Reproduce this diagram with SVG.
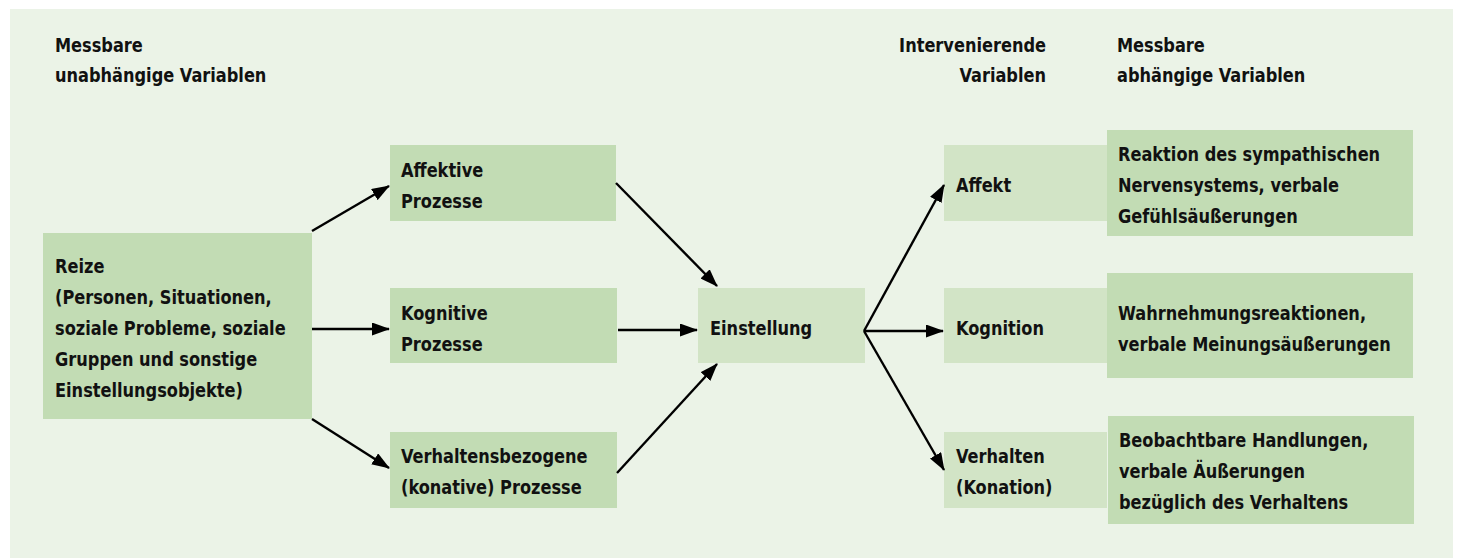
<svg xmlns="http://www.w3.org/2000/svg" width="1458" height="558" viewBox="0 0 1458 558">
<defs>
<style>
text{font-family:"DejaVu Sans Condensed","DejaVu Sans","Liberation Sans",sans-serif;font-weight:bold;font-size:20px;fill:#111}
.dk{fill:#c2dcb4}
.lt{fill:#d2e4c6}
.c line{stroke:#000;stroke-width:2.4;marker-end:url(#ah)}
</style>
<marker id="ah" viewBox="0 0 18 13" refX="17" refY="6.5" markerWidth="18" markerHeight="13" markerUnits="userSpaceOnUse" orient="auto">
<path d="M0,0 L18,6.5 L0,13 z" fill="#000"/>
</marker>
</defs>
<rect x="10" y="9" width="1443" height="549" fill="#ebf3e7"/>
<g id="hdr-left" transform="translate(55 0) scale(0.9 1)"><text y="52">Messbare</text><text y="82">unabhängige Variablen</text></g>
<g id="hdr-mid" text-anchor="end" transform="translate(1046 0) scale(0.9 1)"><text y="52">Intervenierende</text><text y="82">Variablen</text></g>
<g id="hdr-right" transform="translate(1117 0) scale(0.9 1)"><text y="52">Messbare</text><text y="82">abhängige Variablen</text></g>
<g id="reize"><rect class="dk" x="43" y="233" width="269" height="186"/>
<g transform="translate(55 0) scale(0.9 1)"><text y="273">Reize</text><text y="304">(Personen, Situationen,</text><text y="335">soziale Probleme, soziale</text><text y="366">Gruppen und sonstige</text><text y="397">Einstellungsobjekte)</text></g></g>
<g id="affektive"><rect class="dk" x="390" y="145" width="226" height="76"/><g transform="translate(401 0) scale(0.9 1)"><text y="177">Affektive</text><text y="208">Prozesse</text></g></g>
<g id="kognitive"><rect class="dk" x="390" y="288" width="227" height="75"/><g transform="translate(401 0) scale(0.9 1)"><text y="320">Kognitive</text><text y="351">Prozesse</text></g></g>
<g id="verhaltensbezogen"><rect class="dk" x="390" y="432" width="227" height="76"/><g transform="translate(401 0) scale(0.9 1)"><text y="463">Verhaltensbezogene</text><text y="494">(konative) Prozesse</text></g></g>
<g id="einstellung"><rect class="lt" x="698" y="288" width="167" height="75"/><g transform="translate(710 0) scale(0.9 1)"><text y="335">Einstellung</text></g></g>
<g id="affekt"><rect class="lt" x="944" y="145" width="163" height="76"/><g transform="translate(956 0) scale(0.9 1)"><text y="192">Affekt</text></g></g>
<g id="kognition"><rect class="lt" x="944" y="288" width="163" height="75"/><g transform="translate(956 0) scale(0.9 1)"><text y="335">Kognition</text></g></g>
<g id="verhalten"><rect class="lt" x="944" y="432" width="163" height="76"/><g transform="translate(956 0) scale(0.9 1)"><text y="463">Verhalten</text><text y="494">(Konation)</text></g></g>
<g id="reaktion"><rect class="dk" x="1107" y="130" width="306" height="106"/><g transform="translate(1118 0) scale(0.9 1)"><text y="161">Reaktion des sympathischen</text><text y="192">Nervensystems, verbale</text><text y="223">Gefühlsäußerungen</text></g></g>
<g id="wahrnehmung"><rect class="dk" x="1107" y="273" width="306" height="105"/><g transform="translate(1118 0) scale(0.9 1)"><text y="320">Wahrnehmungsreaktionen,</text><text y="351">verbale Meinungsäußerungen</text></g></g>
<g id="beobachtbar"><rect class="dk" x="1108" y="416" width="306" height="108"/><g transform="translate(1119 0) scale(0.9 1)"><text y="447">Beobachtbare Handlungen,</text><text y="478">verbale Äußerungen</text><text y="509">bezüglich des Verhaltens</text></g></g>
<g class="c" id="connectors">
<line x1="312" y1="231" x2="389" y2="186"/>
<line x1="312" y1="329" x2="389" y2="329"/>
<line x1="312" y1="419" x2="389" y2="468"/>
<line x1="616" y1="183" x2="717" y2="286"/>
<line x1="618" y1="330" x2="697" y2="330"/>
<line x1="617" y1="473" x2="717" y2="364"/>
<line x1="864" y1="331" x2="944" y2="185"/>
<line x1="864" y1="331" x2="943" y2="331"/>
<line x1="864" y1="331" x2="944" y2="470"/>
</g>
</svg>
